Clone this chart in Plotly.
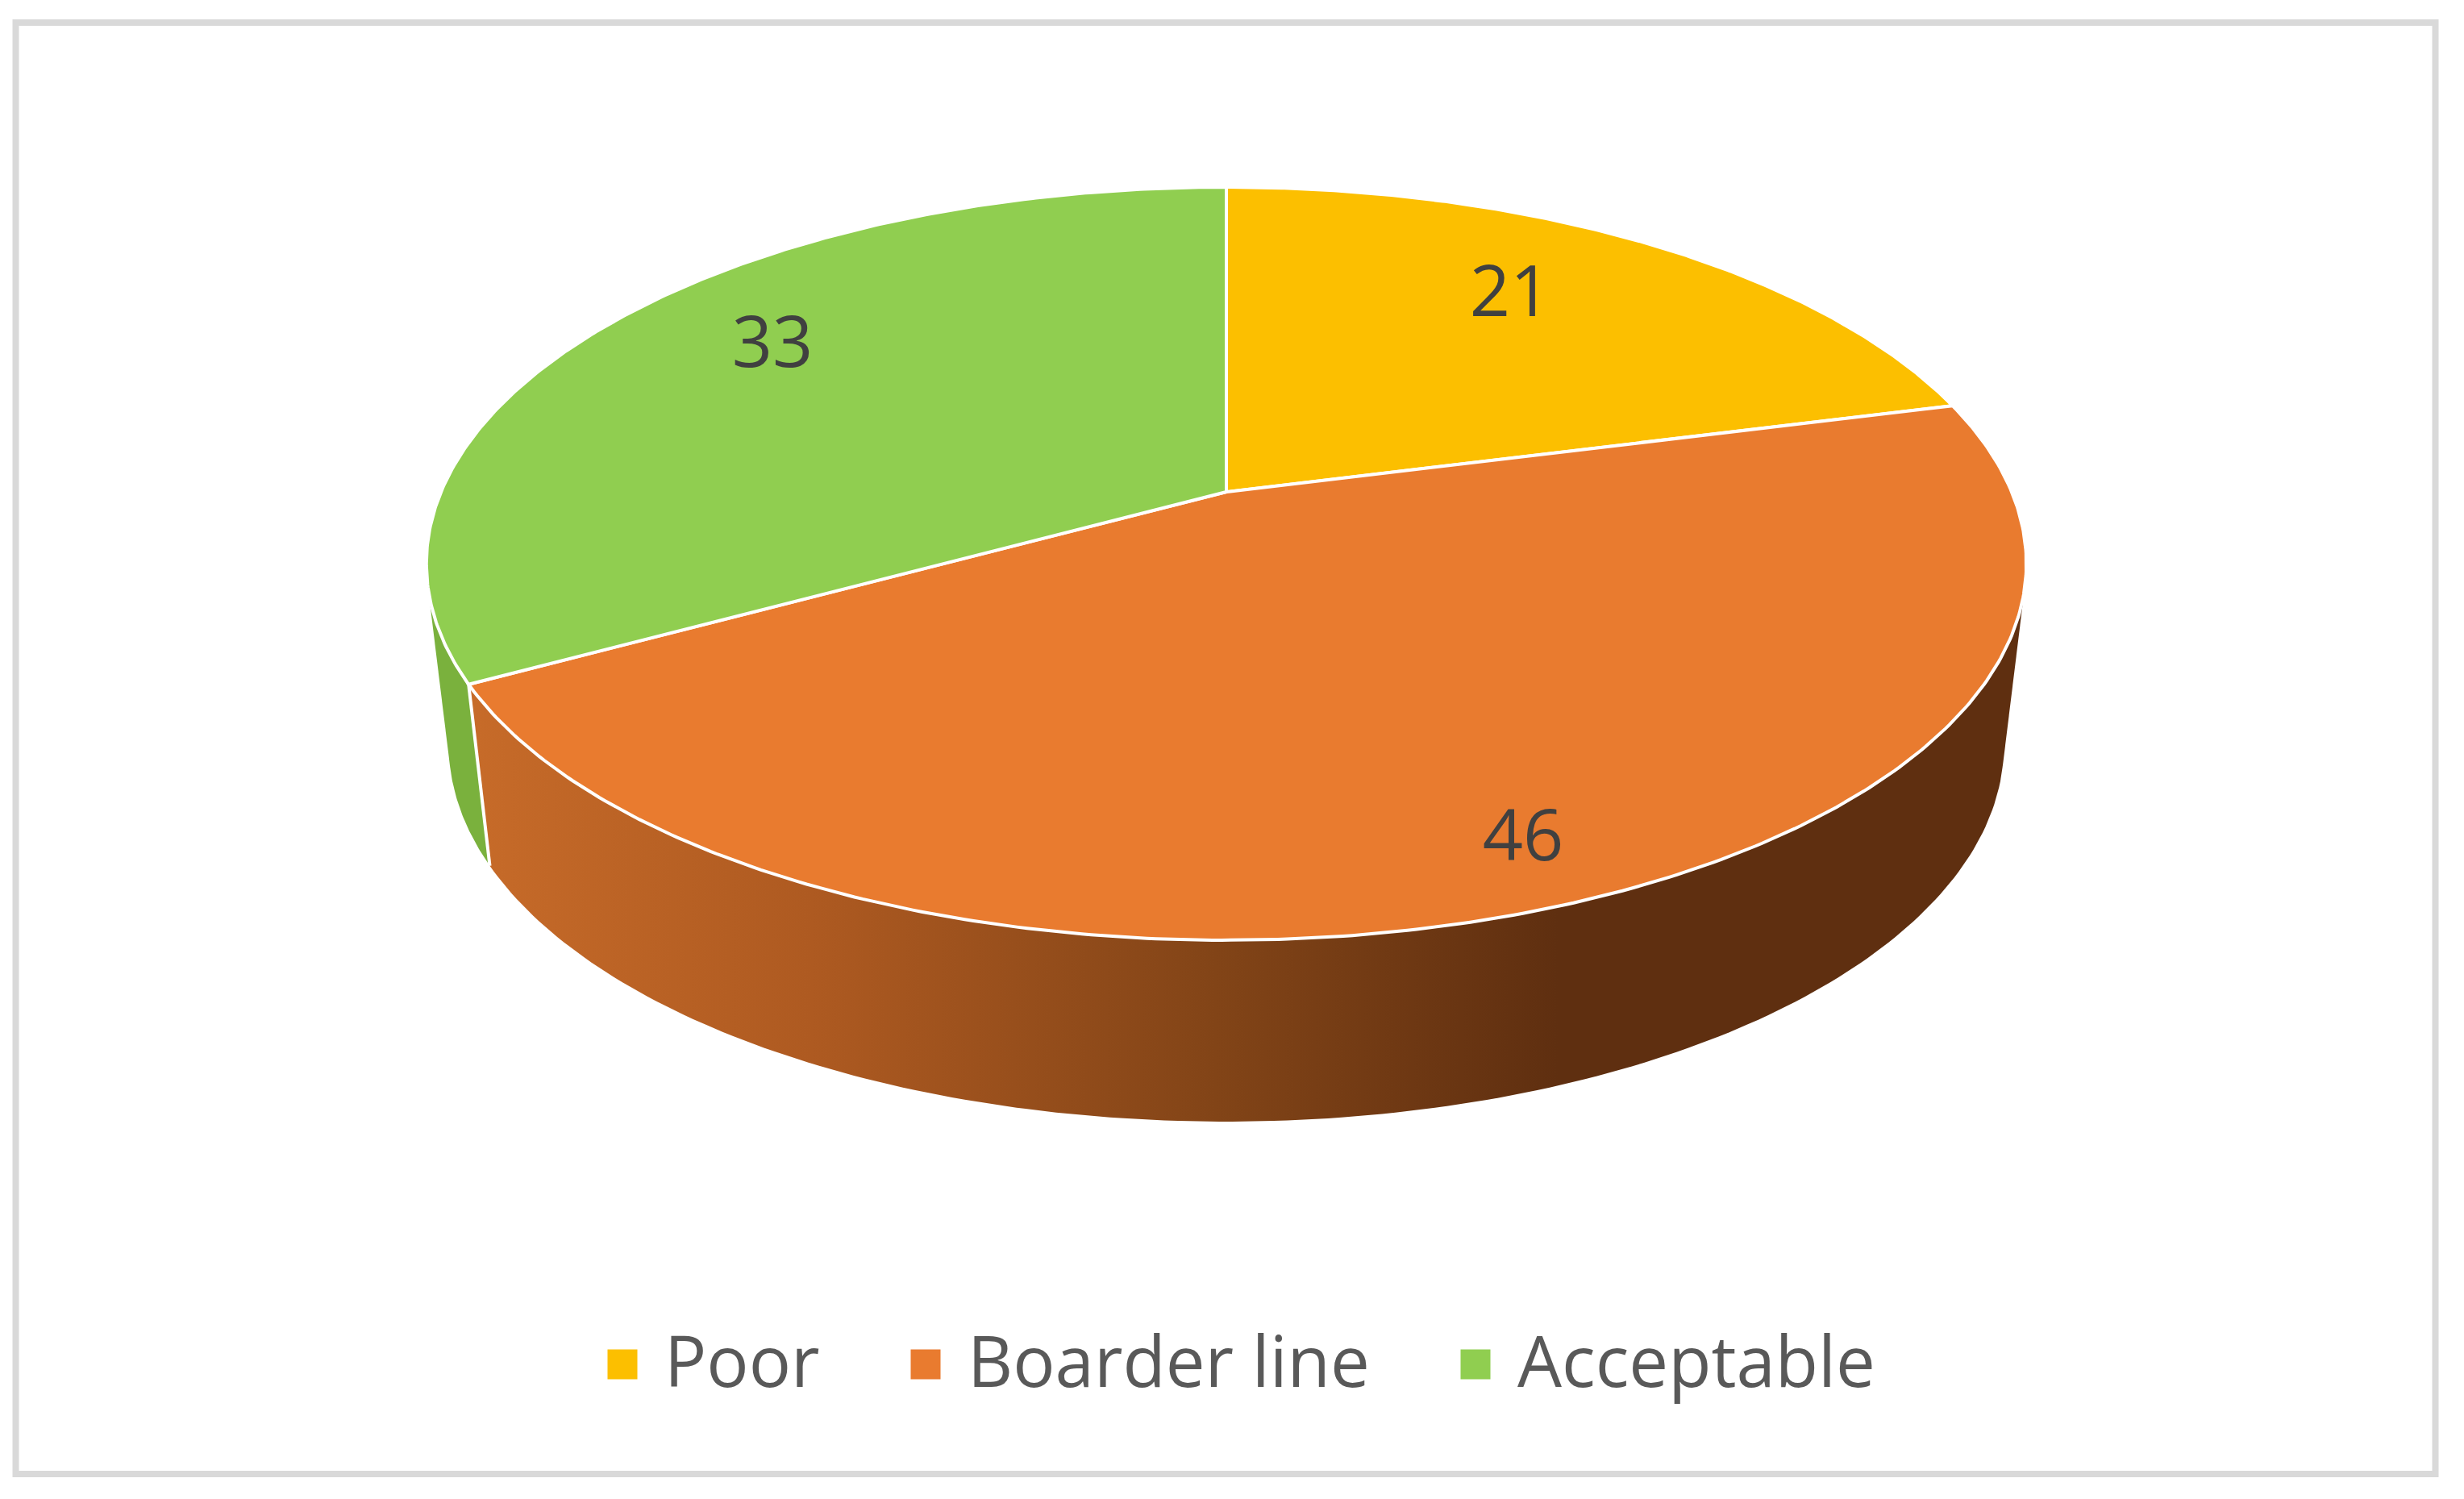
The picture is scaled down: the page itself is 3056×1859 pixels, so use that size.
import numpy as np
import plotly.graph_objects as go

categories = ['Poor', 'Boarder line', 'Acceptable']
values = [21, 46, 33]
top_colors = ['#FCBF00', '#E97B2F', '#90CE50']
wall_green = '#7AB13D'
# shading of the orange side wall, left to right
wall_stops = [(0.0, '#C76B29'), (0.22, '#AE5A21'), (0.48, '#824417'), (0.70, '#5F2F10'), (1.0, '#5F2F10')]

# where things sit on the page
label_pos = [(1873, 370), (1889, 1045), (958, 433)]
legend_marker_x = [772, 1148, 1830]
legend_text_x = [822, 1198, 1880]
legend_y = 1686

# perspective of the disc, in page pixels
cx, cy = 1521, 610
rx, ry, tilt = 974, 450, 0.1906
base_cy, base_sx, base_sy = 835, 0.972, 1.0


def project(angle, center_y=cy, sx=1.0, sy=1.0):
    u, v = np.sin(angle), np.cos(angle)
    d = 1 + tilt * v
    return cx + sx * rx * u / d, center_y - sy * ry * v / d


def hull(xs, ys):
    pts = sorted(set(zip(np.round(xs, 2).tolist(), np.round(ys, 2).tolist())))

    def half(points):
        out = []
        for p in points:
            while len(out) > 1 and (out[-1][0] - out[-2][0]) * (p[1] - out[-2][1]) - (out[-1][1] - out[-2][1]) * (p[0] - out[-2][0]) <= 0:
                out.pop()
            out.append(p)
        return out[:-1]

    ring = half(pts) + half(pts[::-1])
    ring.append(ring[0])
    return [p[0] for p in ring], [p[1] for p in ring]


def wall(start, end):
    angles = np.linspace(start, end, 200)
    tx, ty = project(angles)
    bx, by = project(angles, base_cy, base_sx, base_sy)
    return hull(np.concatenate([tx, bx]), np.concatenate([ty, by]))


edges = 2 * np.pi * np.cumsum([0] + values) / sum(values)

fig = go.Figure()

# side walls, hidden parts get covered by the top slices
green_x, green_y = wall(edges[2], edges[2] + 0.9)
fig.add_trace(go.Scatter(x=green_x, y=green_y, mode='lines', fill='toself', fillcolor=wall_green,
                         line={'width': 0}, hoverinfo='skip'))

orange_x, orange_y = wall(edges[1], edges[2])
fig.add_trace(go.Scatter(x=orange_x, y=orange_y, mode='lines', line={'width': 0}, hoverinfo='skip', fill='toself',
                         fillgradient={'type': 'horizontal', 'colorscale': wall_stops,
                                       'start': min(orange_x), 'stop': max(orange_x)}))

corner_x, corner_y = zip(project(edges[2]), project(edges[2], base_cy, base_sx, base_sy))
fig.add_trace(go.Scatter(x=corner_x, y=corner_y, mode='lines', line={'color': 'white', 'width': 4}, hoverinfo='skip'))

# top of the pie
for i, name in enumerate(categories):
    angles = np.linspace(edges[i], edges[i + 1], 300)
    x, y = project(angles)
    fig.add_trace(go.Scatter(x=[cx, *x, cx], y=[cy, *y, cy], mode='lines', fill='toself', fillcolor=top_colors[i],
                             line={'color': 'white', 'width': 4}, name=name, hoverinfo='name'))

# value labels
fig.add_trace(go.Scatter(x=[p[0] for p in label_pos], y=[p[1] for p in label_pos], mode='text',
                         text=[str(v) for v in values], textposition='middle center',
                         textfont={'family': 'Open Sans', 'size': 88, 'color': '#404040'}, hoverinfo='skip'))

# legend
fig.add_trace(go.Scatter(x=legend_marker_x, y=[1692] * 3, mode='markers', hoverinfo='skip',
                         marker={'symbol': 'square', 'size': 37, 'color': top_colors, 'line': {'width': 0}}))
for name, x in zip(categories, legend_text_x):
    fig.add_annotation(x=x, y=legend_y, text=name, showarrow=False, xanchor='left', yanchor='middle',
                       font={'family': 'Open Sans', 'size': 87, 'color': '#595959'})

# chart frame
fig.add_shape(type='rect', x0=19.5, y0=28, x1=3020.5, y1=1828, line={'color': '#D9D9D9', 'width': 8}, layer='below')

fig.update_xaxes(range=[0, 3056], visible=False)
fig.update_yaxes(range=[1859, 0], visible=False)
fig.update_layout(width=3056, height=1859, margin={'l': 0, 'r': 0, 't': 0, 'b': 0}, showlegend=False,
                  paper_bgcolor='white', plot_bgcolor='white')

fig.write_html("out.html", config={'displayModeBar': False}, post_script="document.body.style.margin = '0';")
